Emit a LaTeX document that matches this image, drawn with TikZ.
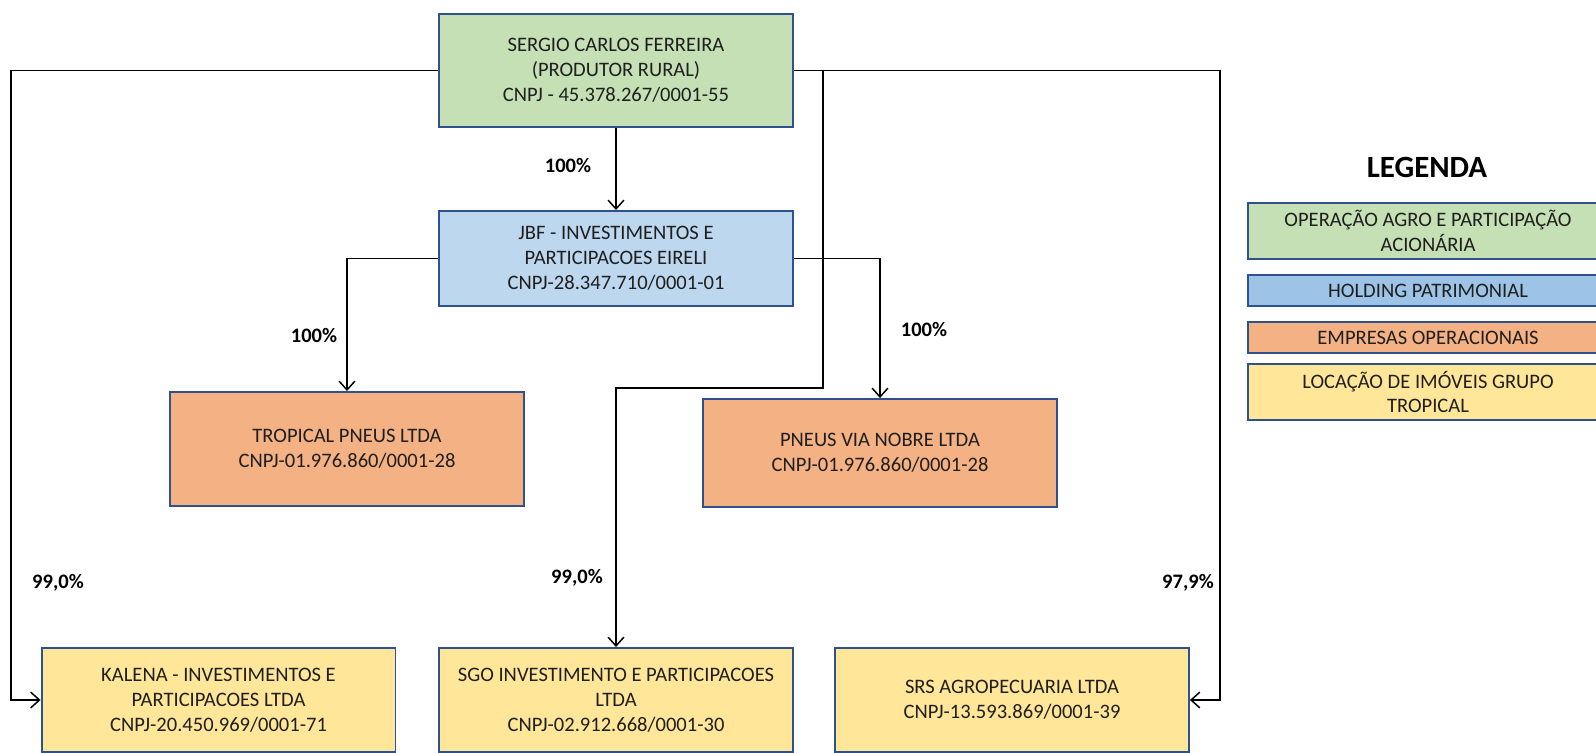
\documentclass[tikz,border=0pt]{standalone}
\usepackage{fontspec}
\setmainfont{Carlito}
\usetikzlibrary{arrows.meta}
\usepackage{xcolor}
\definecolor{boxline}{HTML}{2F528F}
\definecolor{agro}{HTML}{C5E0B4}
\definecolor{holding}{HTML}{BDD7EE}
\definecolor{holdkey}{HTML}{9DC3E6}
\definecolor{oper}{HTML}{F4B183}
\definecolor{locacao}{HTML}{FFE699}
\definecolor{txt}{HTML}{1F1F1F}

\begin{document}
\begin{tikzpicture}[x=0.02cm, y=-0.02cm, font=\fontsize{11.7}{14.2}\selectfont]
\tikzset{firm/.style = {shape=rectangle, draw=boxline, line width=1.1pt, text=txt, align=center, inner sep=0pt, minimum width=7.08cm}}
\tikzset{keybox/.style = {firm, line width=1.6pt, minimum width=7.2cm}}
\tikzset{link/.style = {draw=black, line width=0.85pt, -{Straight Barb[length=5pt,width=9pt,line width=0.85pt]}}}
\tikzset{share/.style = {font=\fontsize{11.7}{14.2}\selectfont\bfseries, inner sep=0pt}}

\useasboundingbox (0,0) rectangle (1596,753);
\clip (0,0) rectangle (1596,753);

\node[firm, fill=agro, minimum height=2.26cm] (sergio) at (616,70.5) {SERGIO CARLOS FERREIRA\\(PRODUTOR RURAL)\\CNPJ - 45.378.267/0001-55};
\node[firm, fill=holding, minimum height=1.9cm] (jbf) at (616,258.5) {JBF - INVESTIMENTOS E\\PARTICIPACOES EIRELI\\CNPJ-28.347.710/0001-01};
\node[firm, fill=oper, minimum height=2.28cm] (tropical) at (347,449) {TROPICAL PNEUS LTDA\\CNPJ-01.976.860/0001-28};
\node[firm, fill=oper, minimum height=2.16cm] (vianobre) at (880,453) {PNEUS VIA NOBRE LTDA\\CNPJ-01.976.860/0001-28};
\node[firm, fill=locacao, minimum height=2.08cm] (kalena) at (218.5,700) {KALENA - INVESTIMENTOS E\\PARTICIPACOES LTDA\\CNPJ-20.450.969/0001-71};
\node[firm, fill=locacao, minimum height=2.08cm] (sgo) at (616,700) {SGO INVESTIMENTO E PARTICIPACOES\\LTDA\\CNPJ-02.912.668/0001-30};
\node[firm, fill=locacao, minimum height=2.08cm] (srs) at (1012,700) {SRS AGROPECUARIA LTDA\\CNPJ-13.593.869/0001-39};

%bends
\coordinate (lbend) at (11,70.5);
\coordinate (rbend) at (1220,70.5);
\coordinate (sbranch) at (823,70.5);
\coordinate (sturn) at (823,388);

%edges
\draw[link] (sergio.west) -- (lbend) |- (kalena.west);
\draw[link] (sergio.east) -- (rbend) |- (srs.east);
\draw[link] (sbranch) -- (sturn) -| (sgo.north);
\draw[link] (sergio.south) -- (jbf.north);
\draw[link] (jbf.west) -| (tropical.north);
\draw[link] (jbf.east) -| (vianobre.north);

%shares
\node[share] (p1) at (568,166) {100\%};
\node[share] (p2) at (314,335) {100\%};
\node[share] (p3) at (924,329) {100\%};
\node[share] (p4) at (58,583) {99,0\%};
\node[share] (p5) at (577,578) {99,0\%};
\node[share] (p6) at (1188,583) {97,9\%};

%legend
\node[font=\fontsize{17.6}{20}\selectfont\bfseries, inner sep=0pt] (legtitle) at (1427,167) {LEGENDA};
\node[keybox, fill=agro, minimum height=1.12cm] (kagro) at (1428,231) {OPERAÇÃO AGRO E PARTICIPAÇÃO\\ACIONÁRIA};
\node[keybox, fill=holdkey, minimum height=0.62cm] (khold) at (1428,290.5) {HOLDING PATRIMONIAL};
\node[keybox, fill=oper, minimum height=0.62cm] (koper) at (1428,337.5) {EMPRESAS OPERACIONAIS};
\node[keybox, fill=locacao, minimum height=1.12cm] (kloc) at (1428,392) {LOCAÇÃO DE IMÓVEIS GRUPO\\TROPICAL};

\end{tikzpicture}
\end{document}
